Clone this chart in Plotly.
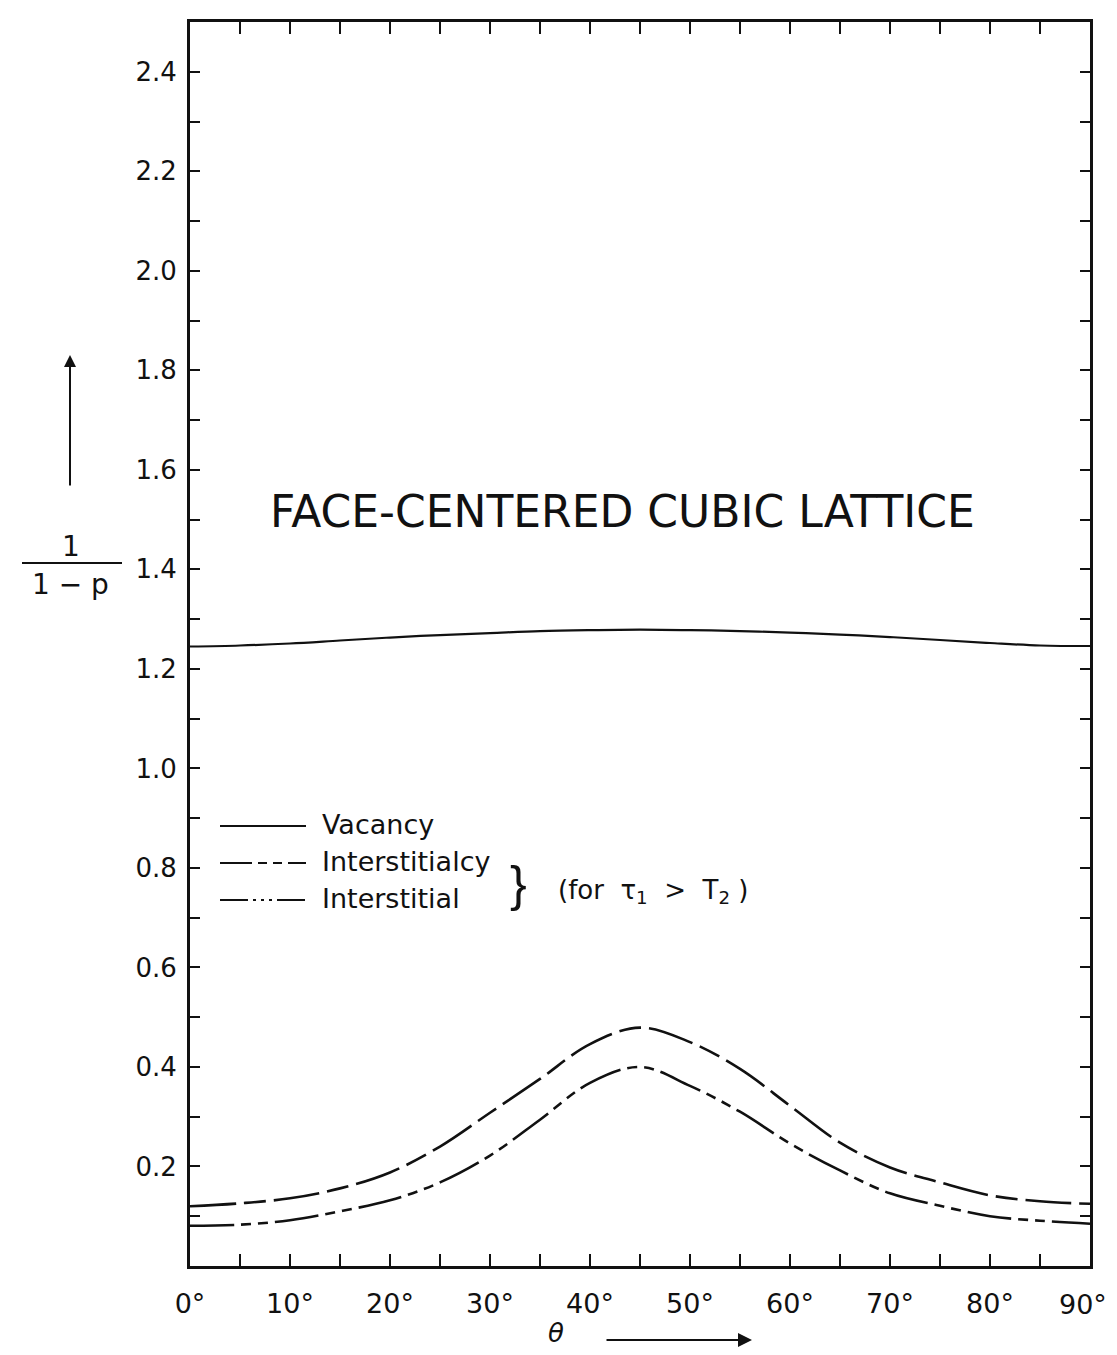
import plotly.graph_objects as go

# ---- data ----
theta_deg = [0, 5, 10, 15, 20, 25, 30, 35, 40, 45, 50, 55, 60, 65, 70, 75, 80, 85, 90]
vacancy = [1.245, 1.247, 1.251, 1.257, 1.263, 1.268, 1.272, 1.276, 1.278, 1.279,
           1.278, 1.276, 1.273, 1.269, 1.264, 1.258, 1.252, 1.247, 1.246]
interstitialcy = [0.120, 0.126, 0.136, 0.156, 0.188, 0.240, 0.308, 0.376, 0.446, 0.479,
                  0.450, 0.396, 0.322, 0.248, 0.198, 0.168, 0.142, 0.130, 0.125]
interstitial = [0.081, 0.083, 0.092, 0.110, 0.132, 0.168, 0.222, 0.294, 0.368, 0.400,
                0.362, 0.310, 0.246, 0.192, 0.146, 0.121, 0.100, 0.091, 0.085]

x_tickvals = list(range(0, 91, 5))
x_labels = [f"{v}°" if v % 10 == 0 else "" for v in x_tickvals]
y_tickvals = [round(0.1 * i, 1) for i in range(1, 25)]
y_ticktext = [f"{v:.1f}" if round(v * 10) % 2 == 0 else "" for v in y_tickvals]

# the last x label sits right at the page edge: draw it as an annotation kept inside the page
x_ticktext = x_labels[:-1] + [""]
last_label = x_labels[-1]

FONT = "DejaVu Sans"
BLACK = "#111111"

fig = go.Figure()
fig.add_trace(go.Scatter(x=theta_deg, y=vacancy, mode="lines", line_shape="spline",
                         line=dict(color=BLACK, width=2.2), name="Vacancy", showlegend=False))
fig.add_trace(go.Scatter(x=theta_deg, y=interstitialcy, mode="lines", line_shape="spline",
                         line=dict(color=BLACK, width=2.6, dash="46px,8px,22px,8px"),
                         name="Interstitialcy", showlegend=False))
fig.add_trace(go.Scatter(x=theta_deg, y=interstitial, mode="lines", line_shape="spline",
                         line=dict(color=BLACK, width=2.6, dash="44px,7px,10px,7px,10px,7px"),
                         name="Interstitial", showlegend=False))

# page body has an 8px margin; figure is sized to fit inside the window
OFF = 8
W, H = 1117 - 2 * OFF, 1355 - 2 * OFF
PLOT_L, PLOT_R, PLOT_T, PLOT_B = 190, 1090, 22, 1266   # screen pixels of plot area
L = PLOT_L - OFF
R = W + OFF - PLOT_R
T = PLOT_T - OFF
B = H + OFF - PLOT_B
PW, PH = PLOT_R - PLOT_L, PLOT_B - PLOT_T


def px(x):
    return (x - PLOT_L) / PW


def py(y):
    return (PLOT_B - y) / PH


shapes = []
annotations = []

annotations.append(dict(text=last_label, xref="paper", yref="paper", x=px(1108), y=py(1304),
                        xanchor="right", yanchor="middle", showarrow=False, borderpad=0,
                        font=dict(family=FONT, size=27, color=BLACK)))

# legend samples
leg = [("Vacancy", 826, "solid"),
       ("Interstitialcy", 863, "32px,6px,9px,6px,9px,6px"),
       ("Interstitial", 900, "28px,5px,3px,5px,3px,5px,3px,5px")]
for name, yy, dash in leg:
    shapes.append(dict(type="line", xref="paper", yref="paper", x0=px(220), x1=px(306),
                       y0=py(yy), y1=py(yy), line=dict(color=BLACK, width=2, dash=dash)))
    annotations.append(dict(text=name, xref="paper", yref="paper", x=px(320), y=py(yy - 2),
                            xanchor="left", yanchor="middle", showarrow=False,
                            font=dict(family=FONT, size=27, color=BLACK)))

annotations.append(dict(text="}", xref="paper", yref="paper", x=px(518), y=py(884),
                        xanchor="center", yanchor="middle", showarrow=False,
                        font=dict(family="Liberation Sans", size=50, color=BLACK)))
annotations.append(dict(text="(for  τ<sub>1</sub>  >  T<sub>2</sub> )", xref="paper", yref="paper",
                        x=px(556), y=py(891), xanchor="left", yanchor="middle", showarrow=False,
                        font=dict(family=FONT, size=26, color=BLACK)))

# title inside plot
annotations.append(dict(text="FACE-CENTERED CUBIC LATTICE", xref="paper", yref="paper",
                        x=px(622), y=py(511), xanchor="center", yanchor="middle", showarrow=False,
                        font=dict(family=FONT, size=44, color=BLACK)))

# y-axis label: 1 / (1 - p) with arrow
annotations.append(dict(text="1", xref="paper", yref="paper", x=px(71), y=py(546),
                        xanchor="center", yanchor="middle", showarrow=False,
                        font=dict(family=FONT, size=28, color=BLACK)))
shapes.append(dict(type="line", xref="paper", yref="paper", x0=px(22), x1=px(122),
                   y0=py(563), y1=py(563), line=dict(color=BLACK, width=2)))
annotations.append(dict(text="1 − p", xref="paper", yref="paper", x=px(70), y=py(584),
                        xanchor="center", yanchor="middle", showarrow=False,
                        font=dict(family=FONT, size=28, color=BLACK)))
annotations.append(dict(text="", xref="paper", yref="paper", x=px(70), y=py(355),
                        showarrow=True, ax=0, ay=132, arrowhead=2, arrowsize=1.2,
                        arrowwidth=2, arrowcolor=BLACK))

# x-axis label: theta with arrow
annotations.append(dict(text="<i>θ</i>", xref="paper", yref="paper", x=px(556), y=py(1333),
                        xanchor="center", yanchor="middle", showarrow=False,
                        font=dict(family=FONT, size=26, color=BLACK)))
annotations.append(dict(text="", xref="paper", yref="paper", x=px(752), y=py(1340),
                        showarrow=True, ax=-147, ay=0, arrowhead=2, arrowsize=1.4,
                        arrowwidth=2, arrowcolor=BLACK))

fig.update_layout(
    width=W, height=H,
    margin=dict(l=L, r=R, t=T, b=B),
    paper_bgcolor="white", plot_bgcolor="white",
    shapes=shapes, annotations=annotations,
    showlegend=False,
)
fig.update_xaxes(range=[0, 90], tickvals=x_tickvals, ticktext=x_ticktext,
                 ticks="inside", ticklen=12, tickwidth=2, tickcolor=BLACK,
                 showline=True, linewidth=3, linecolor=BLACK, mirror="ticks",
                 showgrid=False, zeroline=False, ticklabelstandoff=12,
                 tickfont=dict(family=FONT, size=27, color=BLACK))
fig.update_yaxes(range=[0, 2.5], tickvals=y_tickvals, ticktext=y_ticktext,
                 ticks="inside", ticklen=10, tickwidth=2, tickcolor=BLACK,
                 showline=True, linewidth=3, linecolor=BLACK, mirror="ticks",
                 showgrid=False, zeroline=False, ticklabelstandoff=5,
                 tickfont=dict(family=FONT, size=26, color=BLACK))

fig.write_html("out.html", config={"displayModeBar": False})
